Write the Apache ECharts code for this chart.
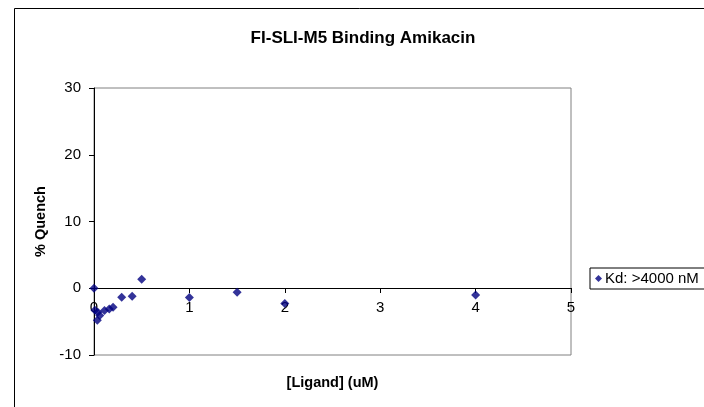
<!DOCTYPE html>
<html>
<head>
<meta charset="utf-8">
<script src="https://cdn.jsdelivr.net/npm/echarts@6/dist/echarts.min.js"></script>
<style>
html,body{margin:0;padding:0;background:#fff;}
#chart{width:704px;height:407px;}
</style>
</head>
<body>
<div id="chart"></div>
<script>
const titleText = 'FI-SLI-M5 Binding Amikacin';
const seriesName = 'Kd: >4000 nM';
const xName = '[Ligand] (uM)';
const yName = '% Quench';
const ligand = [0, 0.01, 0.035, 0.06, 0.04, 0.11, 0.16, 0.2, 0.29, 0.4, 0.5, 1, 1.5, 2, 4];
const quench = [0, -3.3, -4.8, -4.1, -3.6, -3.35, -3.1, -2.85, -1.35, -1.2, 1.35, -1.4, -0.6, -2.3, -1.0];
const points = ligand.map((x, i) => [x, quench[i]]);

const chart = echarts.init(document.getElementById('chart'));
const font = 'Liberation Sans, Arial, sans-serif';
chart.setOption({
  animation: false,
  backgroundColor: '#fff',
  textStyle: { fontFamily: font },
  graphic: [{
    type: 'rect', left: 14, top: 8, z: -10, silent: true,
    shape: { width: 800, height: 500 },
    style: { fill: '#fff', stroke: '#000', lineWidth: 1 }
  }],
  title: {
    text: titleText, left: 358, top: 25, textAlign: 'center',
    textStyle: { fontFamily: font, fontSize: 17, fontWeight: 'bold', color: '#000' }
  },
  legend: {
    left: 590, top: 268, orient: 'vertical',
    itemWidth: 7, itemHeight: 7, itemGap: 0,
    borderColor: '#000', borderWidth: 1, padding: [3, 40, 3, 5],
    textStyle: { fontFamily: font, fontSize: 15, color: '#000', padding: [0, 0, 0, -2] },
    data: [{ name: seriesName, icon: 'diamond' }]
  },
  grid: {
    left: 94, right: 133, top: 88, bottom: 52,
    outerBoundsMode: 'none', containLabel: false,
    show: true, borderColor: '#808080', borderWidth: 1, backgroundColor: '#fff'
  },
  xAxis: {
    type: 'value', min: 0, max: 5, interval: 1,
    offset: -67,
    name: xName, nameLocation: 'middle', nameGap: 87,
    nameTextStyle: { fontFamily: font, fontSize: 14.5, fontWeight: 'bold', color: '#000' },
    axisLine: { onZero: false, lineStyle: { color: '#000', width: 1 } },
    axisTick: { show: true, inside: false, length: 5, lineStyle: { color: '#000' } },
    axisLabel: { fontFamily: font, fontSize: 15, color: '#000', margin: 12 },
    splitLine: { show: false }
  },
  yAxis: {
    type: 'value', min: -10, max: 30, interval: 10,
    name: yName, nameLocation: 'middle', nameGap: 46, nameRotate: 90,
    nameTextStyle: { fontFamily: font, fontSize: 14.5, fontWeight: 'bold', color: '#000' },
    axisLine: { show: true, onZero: false, lineStyle: { color: '#000', width: 1 } },
    axisTick: { show: true, inside: false, length: 5, lineStyle: { color: '#000' } },
    axisLabel: { fontFamily: font, fontSize: 15, color: '#000', margin: 13 },
    splitLine: { show: false }
  },
  series: [{
    name: seriesName, type: 'scatter', data: points,
    symbol: 'diamond', symbolSize: 9,
    itemStyle: { color: '#000080' }
  }]
});
</script>
</body>
</html>
